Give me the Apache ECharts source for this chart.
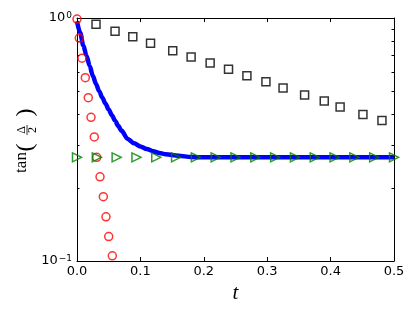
<!DOCTYPE html>
<html>
<head>
<meta charset="utf-8">
<script src="https://cdn.jsdelivr.net/npm/echarts@6/dist/echarts.min.js"></script>
<style>
  html, body { margin: 0; padding: 0; background: #fff; }
  #chart { width: 415px; height: 312px; }
</style>
</head>
<body>
<div id="chart"></div>
<script>
// ---- data ----
var squareT = [0.030, 0.060, 0.088, 0.116, 0.151, 0.180, 0.210, 0.239, 0.268, 0.298, 0.325, 0.359, 0.390, 0.415, 0.451, 0.481];
var squareV = [0.942, 0.882, 0.838, 0.787, 0.734, 0.691, 0.653, 0.615, 0.579, 0.547, 0.515, 0.482, 0.455, 0.430, 0.401, 0.379];

var circleT = [0, 0.0036, 0.0079, 0.0131, 0.0178, 0.0221, 0.0273, 0.0311, 0.0363, 0.0415, 0.0457, 0.0500, 0.0557];
var circleV = [0.99, 0.827, 0.683, 0.568, 0.470, 0.390, 0.324, 0.267, 0.222, 0.184, 0.152, 0.126, 0.105];

var triangleT = [0, 0.03125, 0.0625, 0.09375, 0.125, 0.15625, 0.1875, 0.21875, 0.25, 0.28125, 0.3125, 0.34375, 0.375, 0.40625, 0.4375, 0.46875, 0.5];
var triangleV = [0.267, 0.267, 0.267, 0.267, 0.267, 0.267, 0.267, 0.267, 0.267, 0.267, 0.267, 0.267, 0.267, 0.267, 0.267, 0.267, 0.267];

var lineT = [0, 0.005, 0.01, 0.015, 0.02, 0.025, 0.03, 0.035, 0.04, 0.045, 0.05, 0.055, 0.06, 0.065, 0.07, 0.08, 0.09, 0.10, 0.11, 0.12, 0.13, 0.14, 0.16, 0.18, 0.2, 0.3, 0.4, 0.5];
var lineV = [0.97, 0.87, 0.77, 0.70, 0.635, 0.578, 0.535, 0.50, 0.47, 0.444, 0.42, 0.398, 0.378, 0.36, 0.344, 0.318, 0.305, 0.296, 0.289, 0.283, 0.278, 0.275, 0.271, 0.268, 0.267, 0.267, 0.267, 0.267];

var xTicks = [0, 0.1, 0.2, 0.3, 0.4, 0.5];
var yMajorTicks = [0.1, 1];
var yMajorExp = ['\u22121', '0'];
var yMinorTicks = [0.2, 0.3, 0.4, 0.5, 0.6, 0.7, 0.8, 0.9];

function zip(a, b) { return a.map(function (v, i) { return [v, b[i]]; }); }

var chart = echarts.init(document.getElementById('chart'), null, { renderer: 'canvas' });

var tickStyle = { color: '#000', width: 1 };
var axisLineStyle = { show: true, onZero: false, lineStyle: { color: '#000', width: 1 } };

function rotText(txt, x, y, size) {
  return { type: 'text', x: x, y: y, rotation: Math.PI / 2,
    style: { text: txt, fontFamily: 'Liberation Serif', fontSize: size, fill: '#000',
      align: 'center', verticalAlign: 'middle', textAlign: 'center', textVerticalAlign: 'middle' } };
}

var option = {
  animation: false,
  backgroundColor: '#fff',
  grid: { left: 77, right: 21, top: 18, bottom: 51, containLabel: false },
  xAxis: [
    {
      type: 'value', position: 'bottom', min: 0, max: 0.5, interval: 0.1,
      axisLine: axisLineStyle,
      axisTick: { show: true, inside: true, length: 4, lineStyle: tickStyle, customValues: xTicks },
      axisLabel: {
        show: true, margin: 4, color: '#000', fontFamily: 'DejaVu Sans', fontSize: 13,
        customValues: xTicks,
        formatter: function (v) { return v.toFixed(1); }
      },
      splitLine: { show: false },
      name: 't', nameLocation: 'middle', nameGap: 14,
      nameTextStyle: { fontFamily: 'Liberation Serif', fontStyle: 'italic', fontSize: 21, color: '#000' }
    },
    {
      type: 'value', position: 'top', min: 0, max: 0.5, interval: 0.1,
      axisLine: axisLineStyle,
      axisTick: { show: true, inside: true, length: 4, lineStyle: tickStyle, customValues: xTicks },
      axisLabel: { show: false },
      splitLine: { show: false }
    }
  ],
  yAxis: [
    {
      type: 'log', logBase: 10, position: 'left', min: 0.1, max: 1,
      axisLine: axisLineStyle,
      axisTick: { show: true, inside: true, length: 2.5, lineStyle: tickStyle, customValues: yMinorTicks },
      axisLabel: {
        show: true, margin: 5, color: '#000',
        customValues: yMajorTicks,
        formatter: function (v) {
          var i = Math.abs(v - 1) < 1e-9 ? 1 : 0;
          return '{b|10}{s|' + yMajorExp[i] + '}';
        },
        rich: {
          b: { fontFamily: 'DejaVu Sans', fontSize: 13, color: '#000', lineHeight: 13, padding: [4, 0, 4, 0] },
          s: { fontFamily: 'DejaVu Sans', fontSize: 9, color: '#000', lineHeight: 9, verticalAlign: 'top', padding: [0, 0, 0, 1] }
        }
      },
      splitLine: { show: false }
    },
    {
      type: 'log', logBase: 10, position: 'right', min: 0.1, max: 1,
      axisLine: axisLineStyle,
      axisTick: { show: true, inside: true, length: 2.5, lineStyle: tickStyle, customValues: yMinorTicks },
      axisLabel: { show: false },
      splitLine: { show: false }
    }
  ],
  graphic: [
    rotText('tan', 22, 162.5, 17),
    rotText('(', 26, 147.5, 24),
    rotText('\u0394', 22, 130, 12),
    { type: 'line', shape: { x1: 27, y1: 125, x2: 27, y2: 135 }, style: { stroke: '#000', lineWidth: 0.8 } },
    rotText('2', 32.5, 130, 12),
    rotText(')', 26, 112.5, 24)
  ],
  series: [
    {
      type: 'line', xAxisIndex: 0, yAxisIndex: 0, data: zip(lineT, lineV),
      showSymbol: false, symbol: 'none', smooth: 0.3, smoothMonotone: 'x',
      lineStyle: { color: '#0000ff', width: 4.5 }, z: 2
    },
    {
      type: 'scatter', xAxisIndex: 0, yAxisIndex: 0, data: zip(squareT, squareV),
      symbol: 'rect', symbolSize: 8,
      itemStyle: { color: 'rgba(0,0,0,0)', borderColor: '#000', borderWidth: 1.5 }, z: 3
    },
    {
      type: 'scatter', xAxisIndex: 0, yAxisIndex: 0, data: zip(circleT, circleV),
      symbol: 'circle', symbolSize: 8,
      itemStyle: { color: 'rgba(0,0,0,0)', borderColor: '#ff0000', borderWidth: 1.5 }, z: 3
    },
    {
      type: 'scatter', xAxisIndex: 0, yAxisIndex: 0, data: zip(triangleT, triangleV),
      symbol: 'triangle', symbolSize: 9, symbolRotate: -90,
      itemStyle: { color: 'rgba(0,0,0,0)', borderColor: '#008000', borderWidth: 1.5 }, z: 3
    }
  ]
};
chart.setOption(option);
</script>
</body>
</html>
